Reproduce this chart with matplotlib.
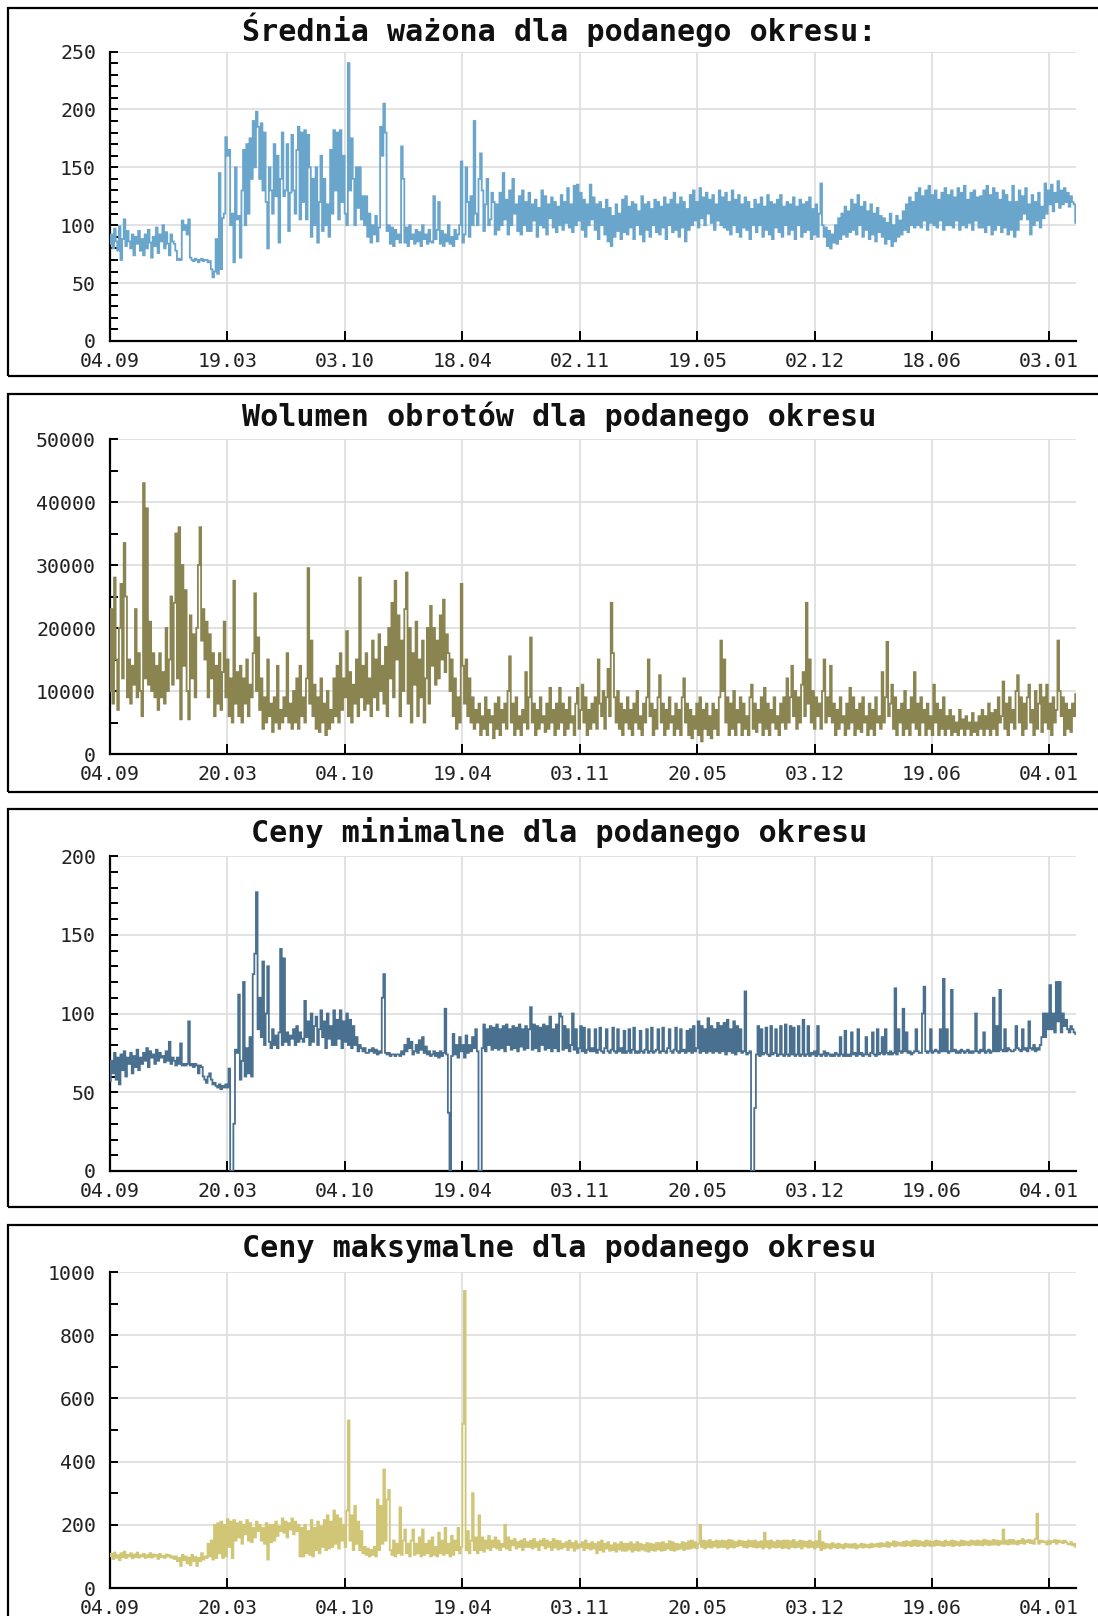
import numpy as np
import matplotlib
matplotlib.use("Agg")
import matplotlib.pyplot as plt
from matplotlib.patches import Rectangle
from matplotlib.ticker import MultipleLocator

# ---------------- data ----------------
TOTAL_DAYS = 1623
tick_days = [0, 197, 395, 592, 790, 987, 1184, 1381, 1578]

labels_p1 = ["04.09", "19.03", "03.10", "18.04", "02.11", "19.05", "02.12", "18.06", "03.01"]
labels_p2 = ["04.09", "20.03", "04.10", "19.04", "03.11", "20.05", "03.12", "19.06", "04.01"]

titles = [
    "Średnia ważona dla podanego okresu:",
    "Wolumen obrotów dla podanego okresu",
    "Ceny minimalne dla podanego okresu",
    "Ceny maksymalne dla podanego okresu",
]

srednia = [
    84,92,80,97,86,78,99,70,88,105,82,95,86,80,92,74,90,84,95,78,
    88,74,92,80,96,85,72,90,82,98,76,92,86,100,80,94,84,74,92,86,
    84,78,70,71,70,104,96,100,92,105,72,70,69,71,70,68,70,71,69,70,
    70,68,69,62,55,60,88,58,145,62,106,110,176,160,165,100,110,68,150,105,
    108,72,130,165,100,170,110,175,140,190,150,198,185,140,188,130,180,120,80,150,
    130,110,170,125,160,85,140,180,125,130,170,95,128,178,130,110,165,185,105,180,
    120,182,105,178,150,90,140,100,150,85,120,160,95,140,100,118,90,165,110,182,
    130,180,105,182,120,160,110,100,240,130,175,140,100,150,115,150,105,125,100,125,
    90,110,85,100,92,108,86,98,185,160,205,180,95,100,84,98,82,96,88,92,
    85,168,140,85,98,82,100,88,92,84,96,86,94,82,100,88,92,84,96,86,
    85,125,88,96,120,84,95,82,92,86,100,84,90,82,96,88,92,100,155,85,
    92,150,120,90,125,100,190,110,100,140,162,130,95,118,140,100,105,128,120,92,
    118,96,128,100,145,105,122,92,130,100,140,110,118,95,125,92,130,100,120,95,
    128,95,118,104,122,90,115,100,130,98,125,92,118,106,124,98,120,94,116,100,
    126,96,120,102,132,98,118,94,134,100,135,104,128,96,122,90,118,100,135,105,
    124,96,118,88,120,100,114,92,122,86,115,82,108,90,118,95,110,88,122,94,
    125,92,116,98,120,88,118,100,112,92,125,86,118,96,120,90,114,100,122,94,
    120,92,116,98,124,88,118,100,122,94,128,96,118,90,124,98,120,86,114,96,
    126,100,130,104,120,98,132,106,124,100,128,110,122,102,126,96,118,104,130,100,
    124,98,128,96,120,92,130,100,122,94,126,90,118,98,124,96,120,88,114,100,
    122,94,118,100,124,90,116,96,126,92,120,88,118,98,122,94,126,90,116,100,
    120,92,118,96,124,88,116,100,122,90,118,94,120,96,124,88,114,92,118,90,
    110,136,100,90,98,82,95,80,92,85,100,84,106,88,110,92,116,90,112,94,
    122,96,118,92,126,100,116,90,120,96,112,88,118,92,110,86,115,94,108,90,
    106,84,102,88,110,82,100,86,108,90,104,92,112,96,118,94,124,100,120,98,
    128,100,132,98,125,104,130,96,134,102,126,100,130,98,122,104,128,96,132,100,
    126,100,130,98,124,104,132,96,128,100,134,98,122,102,128,96,130,104,124,98,
    125,98,130,94,134,100,126,92,132,96,128,100,122,94,130,98,126,92,120,96,
    134,90,120,96,130,105,125,110,132,105,118,92,126,100,120,104,128,98,116,106,
    136,110,130,118,135,112,128,120,138,115,130,118,132,120,128,116,125,120,118,102,
]

wolumen = [
    10000,23000,8000,28000,15000,7000,20000,27000,12000,33500,25000,9000,15000,8000,14000,11000,23000,9000,16000,10000,
    6000,43000,12000,39000,11000,21000,10000,16000,9000,14000,7000,16000,9000,13000,8000,20000,10000,15000,25000,11000,
    24000,35000,12000,36000,5500,30000,14000,26000,10000,5500,22000,12000,19000,9000,20000,30000,36000,18000,23000,15000,
    21000,9000,19000,12000,16000,6000,14000,8000,16000,7000,13000,21000,9000,15000,6000,12000,5000,27500,8000,13000,
    6000,14000,5000,12000,8000,15000,6000,11000,9000,16000,25500,10000,18500,7000,12000,4000,9000,5000,15000,6000,
    8000,3500,9000,5000,14000,4000,7000,5000,9000,6000,16000,5000,8000,4000,10000,5000,12000,4000,14000,6000,
    9000,5000,12000,29500,8000,18000,6000,11000,4000,9000,3500,12000,5000,8000,3000,10000,4000,7000,5000,12000,
    6000,14000,5000,16000,7000,12000,9000,19500,6000,13000,5000,11000,8000,15000,6000,28000,9000,14000,7000,16000,
    8000,12000,6000,18000,9000,15000,7000,19000,10000,14000,8000,17000,6000,20000,12000,24000,9000,27500,15000,22000,
    6000,18000,10000,23000,28800,8000,20000,5000,16000,11000,21000,6000,15000,9000,18000,5000,12000,20000,8000,23500,
    14000,20000,11000,18000,12000,22000,15000,24500,13000,19000,16000,10000,15000,6000,12000,4000,9000,5000,27000,14000,
    8000,15000,6000,12000,5000,9000,4000,7000,5000,8000,3000,6000,4000,9000,3000,7000,5000,6000,2500,8000,
    4000,9000,3000,7000,5000,8000,4000,10000,15500,5000,8000,3000,9000,4000,6000,3000,7000,5000,13000,4000,
    9000,18500,5000,8000,3000,7000,4000,9000,5000,6000,3500,8000,4000,10500,5000,7000,3000,8000,4000,10500,
    5000,8000,3000,7000,4000,9000,5000,6000,3000,8000,10500,4000,7000,11000,5000,9000,3000,7000,4000,8000,
    5000,9000,4000,15000,8000,6000,10000,4000,9000,13500,6000,24000,16000,9000,5000,10000,4000,8000,3000,7000,
    5000,9000,4000,7000,3000,8000,5000,10000,4000,6000,3000,8000,5000,9000,15000,6000,8000,3000,7000,4000,
    9000,12500,5000,8000,3000,7000,4000,9000,5000,6000,3000,8000,4000,7000,3000,9000,12000,5000,8000,3000,
    7000,2500,6000,4000,8000,3000,9000,2000,7000,4000,8000,3000,6000,2500,8000,4000,7000,3000,9000,18000,
    10000,15000,5000,9000,3000,8000,4000,10000,3000,7000,5000,9000,3000,8000,4000,6000,3000,9000,11000,4000,
    8000,3500,7000,5000,9000,3000,10500,4000,8000,3000,7000,5000,9000,4000,6000,3000,8000,5000,9000,4000,
    12000,5000,9000,14000,6000,10000,4000,9000,5000,11000,13000,6000,24000,8000,15000,5000,10000,4000,9000,6000,
    8000,4000,10000,15000,5000,9000,6000,14000,5000,8000,3000,7000,4000,9000,5000,6000,3000,8000,4000,10500,
    5000,9000,3000,7000,4000,8000,3500,9000,5000,6000,3000,8000,4000,7000,3000,9000,5000,6000,4000,13000,
    5000,9000,17800,6000,8000,11000,4000,9000,3000,7000,5000,8000,3000,10000,4000,7000,3000,9000,5000,13000,
    4000,8000,3000,9000,5000,7000,3000,8000,4000,6000,3000,11000,5000,8000,3000,7000,4000,9000,3000,6000,
    4000,7000,3000,6000,3500,5000,3000,7000,4000,5500,3000,6000,4000,5000,3000,6500,3500,5000,3000,6000,
    4000,7000,3000,6000,4000,8000,3000,6500,4000,7000,3000,9000,5000,6000,11500,4000,8000,3000,9000,5000,
    7000,4000,10000,12500,5000,9000,3000,8000,4000,9000,11000,5000,7000,3000,10000,4000,8000,11000,3500,9000,
    5000,11000,4000,8000,3000,9000,5000,7000,18000,10000,6000,9000,3000,8000,4000,7000,3500,8000,6000,9500,
]

ceny_min = [
    57,70,62,75,58,72,55,74,64,76,60,72,68,75,62,73,66,77,64,72,
    68,75,70,78,66,76,72,74,68,77,70,75,72,73,69,76,70,82,68,72,
    70,67,72,68,81,67,68,67,68,95,67,68,66,68,67,62,67,66,60,58,
    56,60,62,58,55,56,54,53,55,52,54,53,55,53,65,0,0,30,77,75,
    112,58,70,120,60,78,62,85,60,125,138,177,90,110,85,133,80,100,130,82,
    78,90,80,86,78,88,141,80,135,82,88,80,86,84,90,80,92,82,88,84,
    82,108,85,95,80,100,82,92,98,80,90,102,85,95,78,100,84,92,80,102,
    80,96,84,102,78,95,82,100,80,96,78,92,80,85,76,80,78,76,78,75,
    75,77,76,78,75,77,74,76,75,110,125,75,74,75,73,74,74,73,74,74,
    73,76,74,80,76,84,78,82,74,76,80,75,83,77,85,75,79,74,76,73,
    74,76,73,75,72,76,73,75,103,74,37,0,73,87,74,80,72,85,76,80,
    72,86,75,80,76,85,78,90,76,0,0,78,93,76,90,80,92,77,91,78,
    93,77,90,78,92,76,93,80,90,77,92,78,91,76,93,79,90,77,92,78,
    90,104,77,93,78,92,76,91,80,93,77,92,78,98,76,90,78,93,76,100,
    98,77,92,78,90,76,80,100,77,90,75,78,92,76,91,75,77,90,76,78,
    76,90,75,77,91,76,75,78,90,76,75,77,91,76,75,90,76,78,75,89,
    75,76,90,75,77,91,75,76,75,89,76,75,77,90,75,76,91,75,76,77,
    90,75,76,91,76,75,78,90,76,75,77,91,76,75,90,76,77,75,89,76,
    90,75,92,76,78,95,75,92,76,90,75,97,76,92,75,90,76,94,75,92,
    76,94,74,96,76,90,75,95,74,92,76,90,75,76,114,74,75,76,0,0,
    40,74,92,73,90,74,75,91,74,73,92,74,75,90,73,74,92,74,73,93,
    74,73,92,74,91,73,74,92,73,74,96,73,74,92,73,75,74,76,73,92,
    74,73,74,76,73,75,74,73,74,73,75,74,73,85,74,73,89,73,74,73,
    88,74,75,73,90,74,75,73,74,85,74,73,75,88,74,73,90,74,75,85,
    74,90,75,74,76,74,75,116,74,90,76,75,103,76,88,75,76,74,75,76,
    90,76,75,75,100,117,76,75,76,90,75,76,77,76,75,90,76,122,76,90,
    75,76,115,76,77,75,76,75,77,76,75,76,77,75,76,75,76,100,76,75,
    77,76,88,75,76,77,75,76,110,76,92,76,115,77,76,90,76,78,77,76,
    76,77,92,78,77,76,90,77,78,76,95,78,77,80,76,78,77,80,85,100,
    85,100,90,118,90,100,88,120,95,120,88,100,92,96,90,88,92,90,88,87,
]

ceny_max = [
    100,108,92,112,96,104,88,110,98,115,95,105,100,110,94,106,98,112,96,104,
    100,108,95,104,98,110,96,106,100,104,92,108,98,102,95,106,100,104,96,100,
    92,100,85,95,70,105,88,100,78,96,72,105,85,98,70,95,85,110,90,100,
    95,140,100,150,90,200,95,205,110,210,95,200,100,218,130,210,95,215,150,205,
    160,210,140,200,170,215,150,205,145,190,160,210,180,200,150,190,140,205,90,200,
    145,200,150,210,165,195,180,220,175,210,160,205,185,220,170,210,180,200,100,190,
    100,200,110,180,105,215,100,190,120,210,110,195,130,215,120,230,125,210,130,245,
    140,230,125,220,150,200,130,245,530,150,230,120,260,140,210,120,180,110,130,105,
    125,100,120,105,130,100,280,120,260,140,375,150,280,310,120,105,150,100,140,110,
    255,105,150,185,110,140,100,150,185,105,140,110,160,100,185,105,140,110,150,100,
    160,105,130,100,175,110,150,105,190,110,140,100,165,105,150,120,190,110,130,520,
    940,120,180,110,150,300,120,160,110,230,120,160,115,150,125,165,120,150,130,160,
    125,150,120,140,130,200,125,160,120,150,135,155,125,145,130,150,120,155,130,145,
    130,150,125,155,130,145,120,150,135,155,125,150,130,145,120,155,128,150,122,148,
    125,140,130,145,120,150,128,142,118,148,125,138,130,145,120,150,126,140,122,145,
    125,140,110,145,120,150,115,140,125,145,118,135,120,142,115,138,122,145,118,140,
    118,140,122,145,115,138,120,145,118,140,122,136,118,142,115,140,120,138,118,142,
    122,142,118,145,120,140,125,148,120,145,118,140,122,138,125,145,120,142,124,148,
    125,150,128,145,126,140,200,130,150,125,148,130,152,128,146,132,150,128,148,130,
    150,130,148,125,152,130,150,128,145,132,150,135,148,130,146,128,150,132,148,130,
    150,128,145,130,148,125,175,130,148,125,150,130,145,128,150,130,148,126,150,128,
    150,125,148,130,152,128,145,130,150,125,148,132,146,128,150,130,145,125,148,130,
    180,120,145,125,140,128,138,125,142,130,138,126,140,128,136,125,140,130,138,128,
    138,128,140,125,135,130,140,128,138,130,136,128,140,130,138,132,140,130,142,132,
    140,132,145,130,142,135,148,132,145,135,142,134,146,133,148,135,145,132,150,135,
    150,133,148,135,145,132,150,135,148,133,146,134,150,136,148,135,145,133,150,136,
    146,135,150,133,148,136,145,134,150,136,148,137,146,135,150,138,148,136,150,137,
    148,135,152,138,150,136,148,137,152,138,150,136,148,140,185,140,150,138,152,140,
    152,140,148,138,150,142,155,140,150,145,152,142,150,140,155,235,140,150,145,148,
    145,138,150,140,148,145,152,140,150,145,148,142,150,145,140,138,145,135,140,130,
]

series = [srednia, wolumen, ceny_min, ceny_max]
colors = ["#6aa5cc", "#8a8450", "#4a7090", "#d0c676"]
ylims = [250, 50000, 200, 1000]
majors = [50, 10000, 50, 200]
minors = [10, 5000, 10, 100]
tick_label_sets = [labels_p1, labels_p2, labels_p2, labels_p2]

# ---------------- layout (pixel geometry) ----------------
W, H = 1098, 1616
fig = plt.figure(figsize=(W / 100, H / 100), dpi=100)
fig.patch.set_facecolor("white")

frames = [(8, 376), (394, 792), (809, 1207), (1225, 1640)]
axes_tb = [(51.5, 341), (439, 754), (856, 1171), (1272, 1588)]
title_y = [30, 416.5, 832, 1248.5]
AX_L, AX_R = 110, 1076

mono = "DejaVu Sans Mono"

for k in range(4):
    ft, fb = frames[k]
    fig.patches.append(Rectangle((8 / W, 1 - fb / H), (1120 - 8) / W, (fb - ft) / H,
                                 transform=fig.transFigure, fill=False,
                                 edgecolor="black", linewidth=1.6, zorder=0))
    at, ab = axes_tb[k]
    ax = fig.add_axes([AX_L / W, 1 - ab / H, (AX_R - AX_L) / W, (ab - at) / H])
    vals = series[k]
    x = np.linspace(0, TOTAL_DAYS, len(vals))
    ax.plot(x, vals, color=colors[k], linewidth=1.3, drawstyle="steps-mid",
            solid_joinstyle="miter", zorder=3)
    ax.set_xlim(0, TOTAL_DAYS)
    ax.set_ylim(0, ylims[k])
    ax.set_xticks(tick_days)
    ax.set_xticklabels(tick_label_sets[k])
    ax.yaxis.set_major_locator(MultipleLocator(majors[k]))
    ax.yaxis.set_minor_locator(MultipleLocator(minors[k]))
    ax.grid(True, which="major", color="#dddddd", linewidth=1.2, zorder=0)
    ax.set_axisbelow(True)
    for s in ["top", "right"]:
        ax.spines[s].set_visible(False)
    for s in ["left", "bottom"]:
        ax.spines[s].set_linewidth(1.6)
        ax.spines[s].set_color("black")
    ax.tick_params(axis="x", direction="in", length=7.5, width=1.4, pad=8,
                   labelsize=14.3, labelcolor="#222222")
    ax.tick_params(axis="y", which="major", direction="in", length=5.5, width=1.4,
                   pad=10, labelsize=14.3, labelcolor="#222222")
    ax.tick_params(axis="y", which="minor", direction="in", length=5.5, width=1.4)
    for lab in ax.get_xticklabels() + ax.get_yticklabels():
        lab.set_family(mono)
    fig.text(559 / W, 1 - title_y[k] / H, titles[k], ha="center", va="center",
             fontsize=21.7, fontweight="bold", family=mono, color="#111111")

fig.savefig("out.png", dpi=100, facecolor="white")
